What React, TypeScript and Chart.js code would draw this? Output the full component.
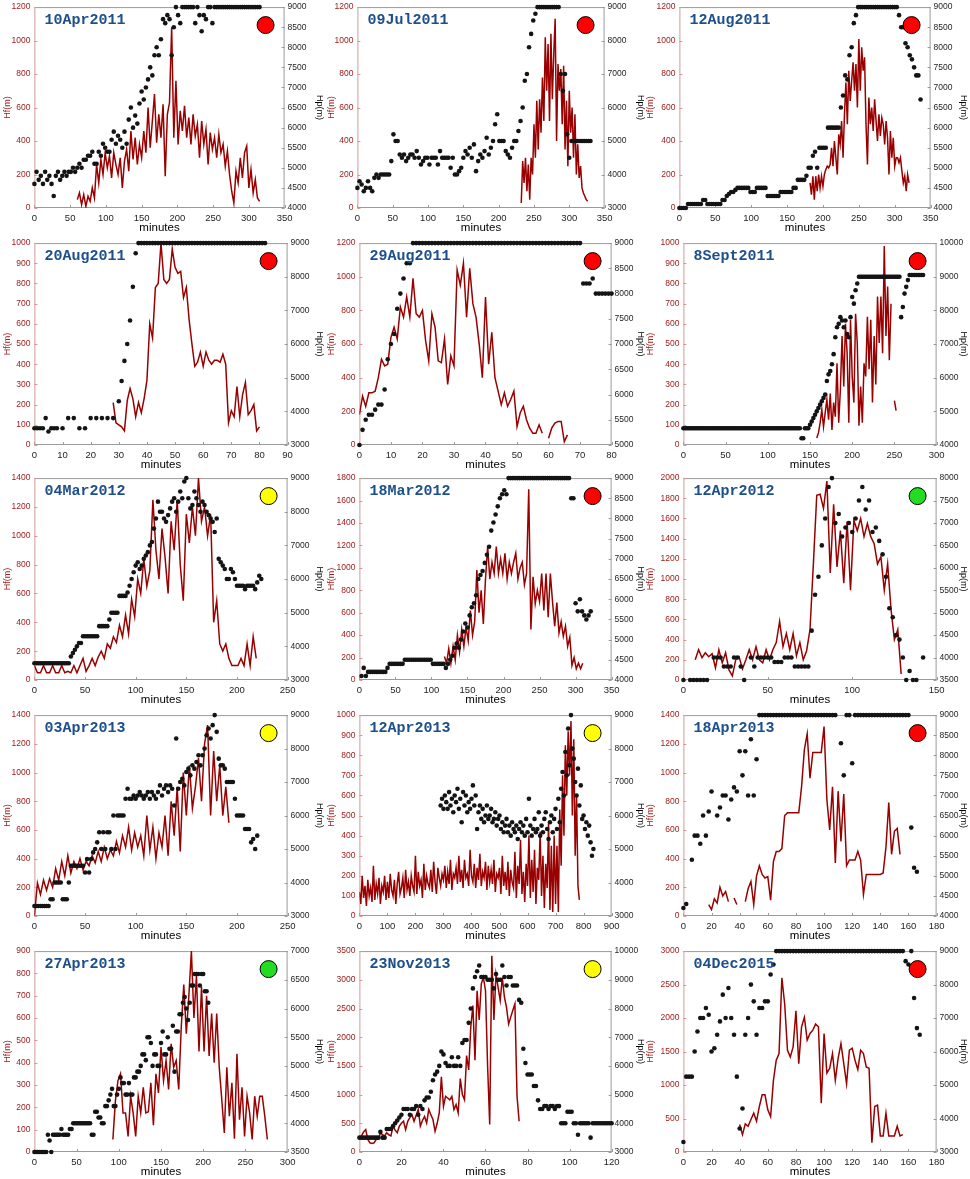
import React, { useEffect, useRef } from "react";
import Chart from "chart.js/auto";

Chart.defaults.font.family = "'Liberation Sans', Arial, Helvetica, sans-serif";

// one entry per panel, left to right, top to bottom
const dates = ["10Apr2011", "09Jul2011", "12Aug2011", "20Aug2011", "29Aug2011", "8Sept2011", "04Mar2012", "18Mar2012", "12Apr2012", "03Apr2013", "12Apr2013", "18Apr2013", "27Apr2013", "23Nov2013", "04Dec2015"];
const stage = ["red", "red", "red", "red", "red", "red", "yellow", "red", "green", "yellow", "yellow", "red", "green", "yellow", "red"];

// axis ranges and tick steps
const minutesMax = [350, 350, 350, 90, 80, 300, 250, 350, 150, 250, 900, 180, 300, 120, 180];
const minutesTick = [50, 50, 50, 10, 10, 50, 50, 50, 50, 50, 100, 20, 50, 20, 20];
const hfMax = [1200, 1200, 1200, 1000, 1200, 1000, 1400, 1800, 2000, 1400, 1000, 1400, 900, 3500, 3000];
const hfTick = [200, 200, 200, 100, 200, 100, 200, 200, 200, 200, 100, 200, 100, 500, 500];
const hpMin = [4000, 3000, 4000, 3000, 5000, 4000, 3000, 4000, 3500, 3000, 3000, 4000, 3500, 3000, 3000];
const hpMax = [9000, 9000, 9000, 9000, 9000, 10000, 9000, 9000, 8000, 9000, 9000, 9000, 7000, 10000, 9000];
const hpTick = [500, 1000, 500, 1000, 500, 1000, 1000, 500, 500, 1000, 1000, 500, 500, 1000, 1000];

// sampling: first minute and minutes between samples
const hfFrom = [60, 232, 182, 28, 0, 158, 0, 118, 7, 0, 0, 18, 93, 0, 40];
const hfEvery = [3, 2, 2, 1, 1, 2, 3, 3, 2, 3, 5, 2, 3, 1, 2];
const hpFrom = [0, 0, 0, 0, 0, 0, 0, 3, 0, 0, 290, 0, 0, 0, 0];
const hpEvery = [3, 3, 3, 1, 1, 2, 2, 3, 2, 2, 5, 2, 2, 1, 2];

// Hf(m)
const hf10Apr2011 = [50, 90, 20, 80, 10, 70, 40, 120, 60, 260, 150, 290, 200, 330, 240, 310, 180, 330, 260, 200, 300, 120, 280, 350, 220, 460, 290, 420, 260, 380, 300, 460, 330, 600, 360, 520, 680, 390, 560, 420, 620, 190, 560, 630, 1080, 420, 760, 380, 580, 460, 610, 420, 540, 380, 560, 430, 500, 300, 520, 380, 470, 260, 450, 350, 420, 300, 440, 330, 380, 250, 340, 200, 100, 30, 220, 150, 300, 180, 330, 370, 120, 230, 90, 170, 60, 40];
const hf09Jul2011 = [30, 280, 150, 300, 100, 260, 50, 300, 200, 500, 300, 640, 350, 650, 450, 780, 520, 1020, 700, 980, 520, 1040, 650, 920, 1130, 400, 860, 700, 830, 500, 850, 350, 640, 250, 700, 450, 600, 300, 560, 200, 380, 180, 250, 120, 90, 70, 50, 40];
const hf12Aug2011 = [150, 80, 190, 50, 190, 100, 200, 120, 190, 130, 200, 230, 250, 240, 260, 360, 250, 400, 300, 200, 440, 380, 520, 300, 560, 750, 500, 820, 640, 760, 870, 700, 860, 600, 1010, 700, 960, 820, 900, 500, 260, 660, 500, 600, 460, 650, 520, 400, 560, 430, 540, 500, 380, 520, 420, 200, 460, 300, 420, 250, 300, 300, 270, 300, 220, 150, 190, 100, 200, 150];
const hf20Aug2011 = [210, 110, 100, 90, 70, 220, 280, 230, 140, 210, 160, 230, 320, 600, 530, 780, 800, 1000, 820, 800, 820, 970, 880, 850, 860, 730, 780, 620, 500, 390, 410, 460, 390, 460, 420, 400, 420, 420, 410, 450, 400, 110, 170, 140, 290, 140, 250, 310, 150, 170, 200, 70, 90];
const hf29Aug2011 = [180, 290, 230, 310, 310, 320, 400, 510, 470, 480, 640, 700, 630, 820, 760, 880, 760, 990, 780, 760, 800, 620, 500, 780, 700, 500, 490, 630, 360, 530, 470, 1040, 950, 1080, 760, 1050, 840, 760, 600, 400, 880, 480, 670, 400, 320, 240, 310, 230, 270, 320, 110, 190, 230, 150, 100, 70, 70, 120, 70, null, 40, 100, 130, 140, 140, 20, 60];
const hf8Sept2011 = [35, 60, 110, 175, 90, 160, 225, 125, 255, 75, 210, 140, 405, 110, 275, 540, 290, 600, 455, 110, 620, 340, 210, 650, 505, 95, 290, 110, 405, 340, 635, 375, 620, 210, 540, 300, 735, 505, 735, 455, 985, 540, 785, 420, 700, null, 220, 170];
const hf04Mar2012 = [100, 50, 50, 100, 50, 50, 100, 50, 50, 100, 50, 60, 50, 100, 50, 100, 150, 60, 100, 150, 100, 160, 200, 150, 250, 220, 300, 260, 380, 300, 450, 320, 560, 440, 700, 600, 840, 650, 760, 1250, 900, 700, 1050, 850, 600, 1100, 900, 1250, 800, 550, 1150, 950, 1200, 1000, 1400, 1100, 1200, 1000, 1150, 400, 550, 250, 200, 250, 150, 100, 100, 100, 150, 100, 250, 100, 300, 150];
const hf18Mar2012 = [210, 150, 280, 150, 300, 180, 400, 250, 450, 300, 470, 350, 620, 400, 520, 980, 600, 800, 500, 900, 1190, 900, 1050, 950, 1190, 950, 1080, 950, 1130, 900, 1050, 950, 1050, 1130, 900, 1000, 1050, 850, 950, 1700, 450, 920, 680, 800, 700, 950, 620, 950, 560, 950, 700, 480, 690, 420, 520, 390, 480, 300, 380, 130, 200, 100, 150, 100, 150];
const hf12Apr2012 = [200, 300, 220, 270, 230, 260, 120, 300, 170, 270, 100, 40, 200, 230, 110, 200, 300, 200, 330, 200, 170, 300, 200, 300, 370, 580, 330, 460, 300, 460, 240, 370, 200, 290, 500, 1150, 1830, 1840, 1700, 1970, 1060, 1740, 1120, 1480, 960, 1570, 890, 1580, 1480, 1600, 1420, 1550, 1420, 1350, 1150, 1220, 890, 1150, 700, 400, 500, 60];
const hf03Apr2013 = [0, 230, 150, 250, 180, 260, 200, 330, 250, 380, 280, 420, 300, 380, 330, 400, 320, 380, 350, 420, 370, 450, 380, 480, 400, 460, 420, 520, 440, 560, 480, 620, 460, 580, 480, 560, 420, 700, 460, 620, 400, 580, 480, 700, 420, 800, 560, 900, 450, 1000, 700, 1050, 750, 900, 1100, 800, 1200, 1330, 700, 1150, 800, 1050, 700, 900, 650];
const hf12Apr2013 = [
  120, 60, 200, 90, 150, 50, 180, 100, 140, 70,
  250, 80, 160, 110, 190, 60, 150, 120, 200, 80,
  170, 90, 210, 130, 100, 180, 60, 160, 220, 110,
  140, 190, 90, 230, 130, 170, 100, 200, 150, 120,
  300, 110, 220, 150, 180, 90, 260, 130, 200, 160,
  140, 230, 120, 270, 170, 110, 240, 190, 150, 210,
  180, 250, 140, 220, 160, 280, 130, 210, 190, 240,
  160, 300, 170, 230, 140, 280, 190, 210, 150, 330,
  200, 170, 260, 140, 240, 180, 310, 150, 220, 190,
  270, 130, 250, 170, 230, 160, 280, 120, 210, 190,
  240, 110, 300, 150, 220, 130, 270, 100, 230, 170,
  140, 320, 90, 250, 160, 380, 110, 220, 70, 260,
  150, 400, 90, 280, 120, 330, 60, 240, 180, 420,
  100, 300, 40, 260, 140, 460, 30, 350, 20, 400,
  60, 350, 20, 530, 250, 700, 400, 850, 600, 920,
  700, 970, 500, 880, 300, 600, 150, 80,
];
const hf18Apr2013 = [80, 45, 120, 90, 200, 140, 170, 100, null, 125, 80, null, null, 100, 190, 240, 80, 280, 350, 290, 265, 275, 110, 380, 450, 450, 470, 700, 720, 720, 720, 720, 720, 900, 1160, 1270, 960, 1140, 1140, 1140, 1140, 1320, 810, 600, 900, 370, 870, 520, 850, 350, 390, 390, 390, 450, 390, 150, 290, 290, 290, 290, 290, 290, 300, 480, 790, 430, 590, 610, 430];
const hf27Apr2013 = [56, 230, 320, 350, 175, 175, 70, 250, 175, 70, 250, 175, 290, 175, 180, 310, 120, 350, 265, 470, 320, 410, 280, 485, 380, 410, 280, 560, 750, 530, 700, 900, 600, 790, 450, 740, 450, 700, 430, 620, 400, 620, 380, 235, 85, 380, 160, 310, 60, 440, 145, 290, 70, 250, 175, 56, 250, 160, 250, 250, 160, 56];
const hf23Nov2013 = [220, 280, 350, 390, 220, 160, 150, 160, 220, 220, 335, 300, 280, 335, 300, 280, 450, 380, 335, 450, 500, 535, 390, 535, 600, 650, 535, 640, 740, 450, 550, 620, 505, 740, 650, 565, 360, 500, 680, 1310, 795, 970, 940, 910, 970, 740, 825, 680, 1280, 1000, 910, 1680, 1430, 2180, 2550, 1600, 2810, 2300, 2930, 3040, 2810, 1500, 480, 3420, 2300, 3100, 2870, 2640, 3040, 2700, 2520, 2230, 2350, 2470, 2580, 970, 535];
const hf04Dec2015 = [410, 260, 420, 385, 485, 580, 460, 680, 855, 855, 630, 530, 1070, 1370, 1470, 2600, 2210, 1520, 1420, 1570, 2110, 1320, 1870, 2010, 1670, 1770, 1820, 1910, 1870, 730, 1770, 1180, 1250, 1470, 1070, 1400, 1620, 1320, 1020, 1520, 1550, 1370, 1230, 1520, 1470, 1270, 1250, 140, 680, 700, 240, 240, 580, 240, 240, 240, 385, 240, 260];

// Hp(m)
const hp10Apr2011 = [
  4600, 4900, 4700, 4800, 4600, 4900, 4700, 4800, 4600, 4300,
  4800, 4900, 4700, 4800, 4900, 4800, 4900, 4900, 5000, 4900,
  5000, 5100, 5000, 5200, 5200, 5300, 5300, 5400, 5100, 5100,
  5400, 5300, 5600, 5500, 5400, 5400, 5700, 5900, 5600, 5800,
  5700, 5500, 5900, 5600, 6200, 6500, 6000, 6300, 6100, 6600,
  6900, 6700, 7000, 7200, 7500, 7300, 7800, 8000, 7800, 8200,
  8700, 8600, 8800, 8700, 7800, 8500, 9000, 8800, 8600, 9000,
  9000, 9000, 9000, 9000, 9000, 8600, 9000, 8800, 8400, 8800,
  8700, 9000, 9000, 8600, 9000, 9000, 9000, 9000, 9000, 9000,
  9000, 9000, 9000, 9000, 9000, 9000, 9000, 9000, 9000, 9000,
  9000, 9000, 9000, 9000, 9000, 9000,
];
const hp09Jul2011 = [
  3600, 3800, 3700, 3500, 3600, 3800, 3600, 3500, 3900, 4000,
  3900, 4000, 4000, 4000, 4000, 4000, 4400, 5200, 5000, 5000,
  4600, 4500, 4600, 4400, 4500, 4600, 4600, 4500, 4700, 4500,
  4300, 4400, 4500, 4500, 4300, 4500, 4500, 4500, 4300, 4700,
  4500, 4500, 4500, 4500, 4200, 4500, 4000, 4000, 4100, 4200,
  4500, 4700, 4600, 4800, 4500, 4900, 4100, 4400, 4600, 4500,
  4700, 5100, 4600, 4800, 5000, 5500, 5800, 5000, 5000, 5000,
  4700, 4600, 4500, 4800, 5000, 5000, 5300, 5600, 6000, 6800,
  7000, 7800, 8200, 8600, 8800, 9000, 9000, 9000, 9000, 9000,
  9000, 9000, 9000, 9000, 9000, 9000, 7000, 6500, 7000, 5200,
  4500, 5000, 5000, 5000, 5000, 5000, 5000, 5000, 5000, 5000,
  5000,
];
const hp12Aug2011 = [
  4000, 4000, 4000, 4000, 4100, 4100, 4100, 4100, 4100, 4100,
  4100, 4200, 4200, 4100, 4100, 4100, 4100, 4100, 4100, 4100,
  4200, 4200, 4300, 4350, 4400, 4400, 4450, 4500, 4500, 4500,
  4500, 4500, 4500, 4400, 4400, 4400, 4500, 4500, 4500, 4500,
  4500, 4300, 4300, 4300, 4300, 4300, 4300, 4400, 4400, 4400,
  4400, 4400, 4400, 4500, 4500, 4700, 4700, 4700, 4700, 4800,
  5000, 5000, 5300, 5400, 5000, 5500, 5500, 5500, 5500, 6000,
  6000, 6000, 6000, 6000, 6000, 6500, 6800, 7300, 7200, 7800,
  8000, 8600, 8800, 9000, 9000, 9000, 9000, 9000, 9000, 9000,
  9000, 9000, 9000, 9000, 9000, 9000, 9000, 9000, 9000, 9000,
  9000, 9000, 8800, 8500, 8500, 8100, 8000, 7800, 7700, 7500,
  7300, 7300, 6700,
];
const hp20Aug2011 = [
  3500, 3500, 3500, 3500, 3800, 3400, 3500, 3500, 3500, null,
  3500, null, 3800, null, 3800, null, 3500, null, 3500, null,
  3800, null, 3800, null, 3800, null, 3800, null, 3800, null,
  4300, 4900, 5500, 6000, 6700, 7700, 8700, 9000, 9000, 9000,
  9000, 9000, 9000, 9000, 9000, 9000, 9000, 9000, 9000, 9000,
  9000, 9000, 9000, 9000, 9000, 9000, 9000, 9000, 9000, 9000,
  9000, 9000, 9000, 9000, 9000, 9000, 9000, 9000, 9000, 9000,
  9000, 9000, 9000, 9000, 9000, 9000, 9000, 9000, 9000, 9000,
  9000, 9000, 9000,
];
const hp29Aug2011 = [
  5000, 5300, 5500, 5600, 5600, 5700, 5800, 5800, 6100, 6700,
  7000, 7200, 7700, 8000, 8300, 8600, 8600, 9000, 9000, 9000,
  9000, 9000, 9000, 9000, 9000, 9000, 9000, 9000, 9000, 9000,
  9000, 9000, 9000, 9000, 9000, 9000, 9000, 9000, 9000, 9000,
  9000, 9000, 9000, 9000, 9000, 9000, 9000, 9000, 9000, 9000,
  9000, 9000, 9000, 9000, 9000, 9000, 9000, 9000, 9000, 9000,
  9000, 9000, 9000, 9000, 9000, 9000, 9000, 9000, 9000, 9000,
  9000, 8200, 8200, 8200, 8300, 8000, 8000, 8000, 8000, 8000,
  8000,
];
const hp8Sept2011 = [
  4500, 4500, 4500, 4500, 4500, 4500, 4500, 4500, 4500, 4500,
  4500, 4500, 4500, 4500, 4500, 4500, 4500, 4500, 4500, 4500,
  4500, 4500, 4500, 4500, 4500, 4500, 4500, 4500, 4500, 4500,
  4500, 4500, 4500, 4500, 4500, 4500, 4500, 4500, 4500, 4500,
  4500, 4500, 4500, 4500, 4500, 4500, 4500, 4500, 4500, 4500,
  4500, 4500, 4500, 4500, 4500, 4500, 4500, 4500, 4500, 4500,
  4500, 4500, 4500, 4500, 4500, 4500, 4500, 4500, 4500, 4500,
  4200, 4200, 4500, 4500, 4500, 4600, 4700, 4800, 4900, 5000,
  5100, 5200, 5300, 5400, 5500, 5900, 6100, 6200, 6400, 6700,
  7200, 7500, 7600, 7800, 7700, 7500, 7700, 7300, 7200, 7800,
  8400, 8200, 8600, 8800, 9000, 9000, 9000, 9000, 9000, 9000,
  9000, 9000, 9000, 9000, 9000, 9000, 9000, 9000, 9000, 9000,
  9000, 9000, 9000, 9000, 9000, 9000, 9000, 9000, 9000, 7800,
  8100, 8500, 8700, 8900, 9050, 9050, 9050, 9050, 9050, 9050,
  9050, 9050, 9050,
];
const hp04Mar2012 = [
  3500, 3500, 3500, 3500, 3500, 3500, 3500, 3500, 3500, 3500,
  3500, 3500, 3500, 3500, 3500, 3500, 3500, 3500, 3700, 3800,
  3900, 4000, 4100, 4100, 4300, 4300, 4300, 4300, 4300, 4300,
  4300, 4300, 4600, 4600, 4600, 4600, 4600, 4800, 5000, 5000,
  5000, 5000, 5500, 5500, 5500, 5500, 5600, 5800, 6000, 6200,
  6400, 6500, 6300, 6400, 6600, 6700, 6800, 7000, 7100, 7500,
  7800, 8300, 8000, 8000, 7800, 7700, 7900, 8100, 8300, 8400,
  8000, 8300, 8600, 8400, 8900, 9000, 8400, 8100, 8200, 8600,
  8400, 8200, 8000, 8300, 8200, 8000, 7900, 7800, 7700, 7400,
  7800, 6600, 6500, 6400, 6300, 6000, 6000, 6300, 6200, 6000,
  5800, 5800, 5800, 5800, 5700, 5800, 5800, 5800, 5800, 5700,
  5900, 6100, 6000,
];
const hp18Mar2012 = [
  4100, 4300, 4100, 4200, 4200, 4200, 4200, 4200, 4200, 4200,
  4200, 4200, 4300, 4400, 4400, 4400, 4400, 4400, 4400, 4400,
  4500, 4500, 4500, 4500, 4500, 4500, 4500, 4500, 4500, 4500,
  4500, 4500, 4500, 4400, 4400, 4400, 4400, 4400, 4400, 4300,
  4400, 4500, 4600, 4800, 4900, 4800, 5000, 5200, 5400, 5300,
  5600, 5800, 5900, 6100, 6500, 6600, 6700, 6900, 7100, 7300,
  7700, 7900, 8100, 8300, 8500, 8600, 8700, 8600, 9000, 9000,
  9000, 9000, 9000, 9000, 9000, 9000, 9000, 9000, 9000, 9000,
  9000, 9000, 9000, 9000, 9000, 9000, 9000, 9000, 9000, 9000,
  9000, 9000, 9000, 9000, 9000, 9000, 9000, 8500, 8500, 5900,
  5700, 6000, 5700, 5600, 5500, 5600, 5700,
];
const hp12Apr2012 = [
  3500, null, 3500, 3500, 3500, 3500, 3500, 3500, null, 4000,
  4000, 4000, 3800, 3800, 3800, 4000, 4000, 3800, 3500, null,
  4000, 3800, 4000, 4000, 4000, 4000, 4000, 3900, 3900, 3900,
  4000, 4000, 4000, 3800, 3800, 3800, 3800, 3800, 4600, 5400,
  5800, 6500, 7100, 7800, 8000, 7000, 7200, 6700, 6900, 7000,
  6800, 7100, 7500, 7800, 7300, 7500, 6800, 6900, 6600, 6300,
  5800, 5100, 4900, 4500, 4400, 4000, 3500, 3700, 3500, 3500,
  null, 4000,
];
const hp03Apr2013 = [
  3300, 3300, 3300, 3300, 3300, 3300, 3300, 3300, 3500, 3500,
  4000, 4000, 4000, 4000, 3500, 3500, 3500, 4000, 4500, 4500,
  4500, 4500, 4500, 4500, 4500, 4300, 4700, 4300, 4700, 4900,
  5000, 5200, 5500, 5000, 5500, 5000, 5500, 5500, 5000, 6000,
  5000, 6000, 6000, 6000, 6000, 6500, 6800, 6500, 6500, 6600,
  6500, 6600, 6700, 6600, 6500, 6600, 6700, 6500, 6700, 6600,
  6500, 6700, 6900, 6600, 6800, 6900, 6700, 6900, 6800, 6300,
  8300, 6800, 7000, 7100, 6900, 7300, 7400, 7200, 7500, 7400,
  7600, 7800, 7500, 7800, 8000, 8400, 8600, 8300, 8700, 9000,
  8500, 7700, 7500, 7500, 7400, 7000, 7000, 7000, 7000, 6500,
  6000, 6000, 6000, 6000, 5600, 5600, 5600, 5200, 5300, 5000,
  5400,
];
const hp12Apr2013 = [
  6300, 6500, 6200, 6600, 6400, 6200, 6700, 6300, 6500, 6100,
  6600, 6400, 6800, 6200, 6500, 5800, 6700, 6300, 6600, 6100,
  6400, 6200, 6500, 6900, 6300, 6600, 5600, 6100, 6300, 5900,
  6200, 5800, 6000, 6300, 5900, 6000, 6200, 5800, 5900, 6100,
  5700, 5900, 6000, 5600, 5800, 5500, 5700, 5900, 5500, 5700,
  5400, 5800, 5600, 5500, 5700, 5300, 5600, 5800, 5500, 5700,
  5400, 5900, 5500, 6500, 5700, 5400, 5600, 5900, 5500, 5600,
  6100, 5400, 5700, 5500, 5900, 6100, 5600, 5300, 5800, 6000,
  5500, 5900, 6200, 5600, 6500, 5800, 6800, 7300, 6600, 7900,
  7200, 8600, 7500, 9000, 8000, 7700, 7000, 6600, 7400, 6300,
  6900, 5900, 6000, 5600, 5800, 5400, 5700, 5200, 4800, 5000,
];
const hp18Apr2013 = [
  4200, 4300, null, 5400, 6000, 6000, 5800, 6500, 6000, 6600,
  7100, null, 6500, 6700, 7000, 7000, 6400, 6900, 7200, 7100,
  8100, 7500, 8100, 7000, 8400, 7000, 7900, 9000, 9000, 9000,
  9000, 9000, 9000, 9000, 9000, 9000, 9000, 9000, 9000, 9000,
  9000, 9000, 9000, 9000, 9000, 9000, 9000, 9000, 9000, 9000,
  9000, 9000, 9000, 9000, 9000, null, 8300, 7500, 9000, 9000,
  7800, 9000, 9000, 9000, 9000, 9000, 9000, 9000, 9000, 9000,
  9000, 9000, 9000, 9000, 9000, 9000, 9000, 9000, 9000, 9000,
  9000, 6200, 5200, 5100,
];
const hp27Apr2013 = [
  3500, 3500, 3500, 3500, 3500, 3500, 3500, 3500, 3800, 3700,
  3500, 3800, 3800, 3800, 3800, 3800, 3900, 3800, 3800, 3800,
  3800, 3900, 3900, 4000, 4000, 4000, 4000, 4000, 4000, 4000,
  4000, 4000, 4000, 4000, 3800, 3800, 4200, 4200, 4100, 4100,
  4000, 4000, 4300, 4300, 4400, 4500, 4600, 4300, 4300, 4500,
  4600, 4800, 4700, 4700, 4500, 4500, 4700, 4500, 4500, 4800,
  4800, 4900, 4900, 5000, 5200, 5200, 5100, 5500, 5500, 5400,
  5000, 5200, 5200, 5000, 5000, 5400, 5600, 5200, 5200, 5500,
  5300, 5300, 5700, 4900, 5600, 5600, 5900, 5900, 6100, 6200,
  6000, 5800, 6100, 6400, 6400, 6600, 6600, 6600, 6400, 6600,
  6600, 6300, 6300, 6100,
];
const hp23Nov2013 = [
  3500, 3500, 3500, 3500, 3500, 3500, 3500, 3500, 3500, 3500,
  3700, 3500, 3500, 3800, 3800, 3800, 3900, 4000, 4100, 4200,
  4300, 4500, 4500, 4500, 4300, 4500, 4500, 4600, 4300, 4600,
  4500, 4800, 4900, 4900, 5100, 5500, 5700, 5800, 6000, 6500,
  6400, 6100, 6000, 6000, 6300, 6000, 6000, 6300, 6000, 6800,
  6900, 6900, 7500, 8000, 8700, 9100, 9300, 9500, 9100, 9100,
  9100, 9000, 9000, 9000, 8700, 9200, 9000, 9000, 9500, 9100,
  8800, 9100, 9100, 8800, 8800, 8800, 8300, 8200, 6600, 6100,
  5700, 5700, 5700, 5300, 5300, 4800, 4500, 4500, 4600, 4600,
  4500, 4600, 4600, 4500, 4600, 4600, 4000, 4000, 4000, 4400,
  4400, 4400, 4000, 4000, 3600, 4000, 4000, 4000, 4000, 4000,
  3500, 4000, 4000, 4000, 4000, 4000, 4000, 4000, 4000, 4000,
  4000,
];
const hp04Dec2015 = [
  3300, 5250, 5250, 5250, 6000, 6600, 7000, 7000, 7300, 7100,
  6000, 6100, 6500, 6900, 7700, 7000, 7900, 7000, 6500, 5250,
  3700, 4300, 6500, 7000, 8000, 7500, 6500, 7300, 7300, 7500,
  7500, 8300, 8600, 9000, 9000, 9000, 9000, 9000, 9000, 9000,
  9000, 9000, 9000, 9000, 9000, 9000, 9000, 9000, 9000, 9000,
  9000, 9000, 9000, 9000, 9000, 9000, 9000, 9000, 9000, 9000,
  9000, 9000, 9000, 9000, 9000, 9000, 9000, 9000, 9000, 9000,
  9000, 9000, 9000, 9000, 9000, 9000, 9000, 9000, 9000, 8700,
  8600, 9000, 7600, 6700, 6500,
];

const hfSeries = [hf10Apr2011, hf09Jul2011, hf12Aug2011, hf20Aug2011, hf29Aug2011, hf8Sept2011, hf04Mar2012, hf18Mar2012, hf12Apr2012, hf03Apr2013, hf12Apr2013, hf18Apr2013, hf27Apr2013, hf23Nov2013, hf04Dec2015];
const hpSeries = [hp10Apr2011, hp09Jul2011, hp12Aug2011, hp20Aug2011, hp29Aug2011, hp8Sept2011, hp04Mar2012, hp18Mar2012, hp12Apr2012, hp03Apr2013, hp12Apr2013, hp18Apr2013, hp27Apr2013, hp23Nov2013, hp04Dec2015];

const stageFill: Record<string, string> = { red: "#ff0000", yellow: "#ffff00", green: "#22dd22" };

const HF_RED = "#990000";
const HF_TEXT = "#a01c1c";
const TEXT = "#1e1e1e";

// plot-area edges on the page
const rowTop = [6, 242, 477, 714, 950];
const rowBottom = [208, 445, 680, 916, 1152];
const colLeft = [[34, 357, 679], [34, 359, 683]];
const colRight = [[284, 604, 930], [287, 611, 936]];
// centre of the rotated axis titles on the page
const leftTitleX = [7, 331, 650];
const rightTitleX = [319, 640, 963];
const TITLE_SIZE = 9;
const TOP_PAD = 8;
const X_H = 27;

const toPoints = (from: number, every: number, values: (number | null)[]) =>
  values.map((v, i) => ({ x: from + i * every, y: v }));

const decor = {
  id: "decor",
  beforeDatasetsDraw(chart: any) {
    const { ctx, chartArea: a, scales } = chart;
    ctx.save();
    ctx.lineWidth = 1;
    // frame
    ctx.strokeStyle = "#9a9a9a";
    ctx.beginPath();
    ctx.moveTo(a.left, a.top + 0.5);
    ctx.lineTo(a.right, a.top + 0.5);
    ctx.moveTo(a.left, a.bottom - 0.5);
    ctx.lineTo(a.right, a.bottom - 0.5);
    ctx.moveTo(a.right - 0.5, a.top);
    ctx.lineTo(a.right - 0.5, a.bottom);
    for (const t of scales.x.ticks) {
      const x = Math.round(scales.x.getPixelForValue(t.value)) + 0.5;
      ctx.moveTo(x, a.bottom);
      ctx.lineTo(x, a.bottom - 3);
    }
    for (const t of scales.yHp.ticks) {
      const y = Math.round(scales.yHp.getPixelForValue(t.value)) + 0.5;
      ctx.moveTo(a.right, y);
      ctx.lineTo(a.right - 3, y);
    }
    ctx.stroke();
    ctx.strokeStyle = "#d49a9a";
    ctx.beginPath();
    ctx.moveTo(a.left + 0.5, a.top);
    ctx.lineTo(a.left + 0.5, a.bottom);
    for (const t of scales.yHf.ticks) {
      const y = Math.round(scales.yHf.getPixelForValue(t.value)) + 0.5;
      ctx.moveTo(a.left, y);
      ctx.lineTo(a.left + 3, y);
    }
    ctx.stroke();
    ctx.restore();
  },
  afterDraw(chart: any, _args: any, opts: any) {
    const { ctx, chartArea: a } = chart;
    ctx.save();
    ctx.font = "bold 15px 'Liberation Mono', 'Courier New', monospace";
    ctx.fillStyle = "#1d4f8c";
    ctx.textBaseline = "middle";
    ctx.textAlign = "left";
    ctx.fillText(opts.title, a.left + 10, a.top + 13);
    ctx.beginPath();
    ctx.arc(a.right - 19, a.top + 18, 8.5, 0, Math.PI * 2);
    ctx.fillStyle = stageFill[opts.stage];
    ctx.fill();
    ctx.lineWidth = 1;
    ctx.strokeStyle = "#000";
    ctx.stroke();
    ctx.restore();
  },
};

function Panel({ idx }: { idx: number }) {
  const canvasRef = useRef<HTMLCanvasElement | null>(null);
  const row = Math.floor(idx / 3);
  const col = idx % 3;
  const g = row === 0 ? 0 : 1;
  const plotL = colLeft[g][col];
  const plotR = colRight[g][col];
  const half = (TITLE_SIZE * 1.2) / 2;
  const leftW = plotL - leftTitleX[col] + half;
  const rightW = rightTitleX[col] - plotR + half;
  const left = plotL - leftW;
  const width = plotR - plotL + leftW + rightW;
  const top = rowTop[row] - TOP_PAD;
  const height = rowBottom[row] - rowTop[row] + TOP_PAD + X_H;

  useEffect(() => {
    if (!canvasRef.current) return;
    const chart = new Chart(canvasRef.current, {
      type: "line",
      data: {
        datasets: [
          {
            label: "Hp(m)",
            data: toPoints(hpFrom[idx], hpEvery[idx], hpSeries[idx]).filter((p) => p.y !== null),
            yAxisID: "yHp",
            showLine: false,
            pointRadius: 2.3,
            pointBackgroundColor: "#141414",
            pointBorderWidth: 0,
            pointHoverRadius: 0,
            clip: false,
          },
          {
            label: "Hf(m)",
            data: toPoints(hfFrom[idx], hfEvery[idx], hfSeries[idx]),
            yAxisID: "yHf",
            borderColor: HF_RED,
            borderWidth: 1.5,
            pointRadius: 0,
            spanGaps: false,
            tension: 0,
          },
        ],
      },
      options: {
        responsive: false,
        animation: false,
        events: [],
        layout: { padding: { top: TOP_PAD, left: 0, right: 0, bottom: 0 } },
        plugins: {
          legend: { display: false },
          tooltip: { enabled: false },
          decor: { title: dates[idx], stage: stage[idx] },
        },
        scales: {
          x: {
            type: "linear",
            min: 0,
            max: minutesMax[idx],
            grid: { display: false, drawTicks: false },
            border: { display: false },
            ticks: {
              stepSize: minutesTick[idx],
              autoSkip: false,
              maxRotation: 0,
              color: TEXT,
              font: { size: 9.5 },
              padding: 4.5,
              callback: (v: any) => String(v),
            },
            title: { display: true, text: "minutes", color: "#000", font: { size: 11.5 }, padding: 0 },
            afterFit: (s: any) => {
              s.height = X_H;
            },
          },
          yHf: {
            type: "linear",
            position: "left",
            min: 0,
            max: hfMax[idx],
            grid: { display: false, drawTicks: false },
            border: { display: false },
            ticks: {
              stepSize: hfTick[idx],
              autoSkip: false,
              color: HF_TEXT,
              font: { size: 8.5 },
              padding: 4,
              callback: (v: any) => String(v),
            },
            title: { display: true, text: "Hf(m)", color: HF_TEXT, font: { size: TITLE_SIZE }, padding: 0 },
            afterFit: (s: any) => {
              s.width = leftW;
            },
          },
          yHp: {
            type: "linear",
            position: "right",
            min: hpMin[idx],
            max: hpMax[idx],
            grid: { display: false, drawTicks: false },
            border: { display: false },
            ticks: {
              stepSize: hpTick[idx],
              autoSkip: false,
              color: TEXT,
              font: { size: 8.5 },
              padding: 3,
              callback: (v: any) => String(v),
            },
            title: { display: true, text: "Hp(m)", color: "#000", font: { size: TITLE_SIZE }, padding: 0 },
            afterFit: (s: any) => {
              s.width = rightW;
            },
          },
        },
      } as any,
      plugins: [decor],
    });
    return () => chart.destroy();
  }, [idx]);

  return (
    <canvas
      ref={canvasRef}
      width={Math.ceil(width)}
      height={height}
      style={{ position: "absolute", left, top, width: Math.ceil(width), height }}
    />
  );
}

export default function App() {
  return (
    <div
      style={{
        position: "absolute",
        left: 0,
        top: 0,
        width: 970,
        height: 1179,
        overflow: "hidden",
        background: "#fff",
      }}
    >
      {dates.map((d, i) => (
        <Panel key={d} idx={i} />
      ))}
    </div>
  );
}
